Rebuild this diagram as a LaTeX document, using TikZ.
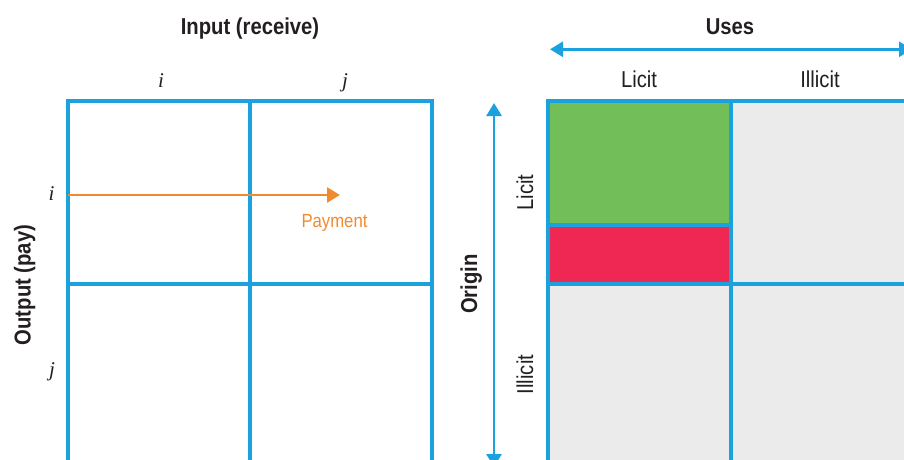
\documentclass[tikz,border=0pt]{standalone}
\usepackage{fontspec}
\setmainfont{Liberation Sans}[FakeStretch=0.88]
\newfontfamily\idxfont{Liberation Serif}
\usetikzlibrary{arrows.meta}
\definecolor{gridblue}{HTML}{1BA1DE}
\definecolor{payorange}{HTML}{F18A2E}
\definecolor{licitgreen}{HTML}{72BF5A}
\definecolor{mixred}{HTML}{EE2753}
\definecolor{cellgray}{HTML}{EBEBEB}
\definecolor{inkgray}{HTML}{231F20}

\begin{document}
\begin{tikzpicture}[x=1pt,y=-1pt,
    gridline/.style={draw=gridblue,line width=4pt},
    axis/.style={gridblue,line width=2.7pt,{Triangle[length=13pt,width=15pt]}-{Triangle[length=13pt,width=15pt]}},
    title/.style={font=\fontsize{23}{26}\selectfont\bfseries,anchor=base},
    lab/.style={font=\fontsize{23}{26}\selectfont,anchor=base},
    idx/.style={font=\fontsize{21}{24}\idxfont\itshape,anchor=base}]
    \tikzstyle{every node}+=[inner sep=0pt,text=inkgray]
    \useasboundingbox (0,0) rectangle (904,460);
    \clip (0,0) rectangle (904,460);
    % left matrix
    \draw [gridline] (68,101) rectangle (432,467);
    \draw [gridline] (250,101) -- (250,467);
    \draw [gridline] (68,284) -- (432,284);
    \node [title] (input) at (250,34.3) {Input (receive)};
    \node [title,rotate=90] (output) at (30.5,285) {Output (pay)};
    \node [idx] (coli) at (161,87) {i};
    \node [idx] (colj) at (345,87) {j};
    \node [idx] (rowi) at (51.5,200.7) {i};
    \node [idx] (rowj) at (52,376) {j};
    \coordinate (paystart) at (68,195);
    \coordinate (payend) at (340,195);
    \draw [payorange,line width=2.7pt,-{Triangle[length=13pt,width=15pt]}] (paystart) -- (payend);
    \node [lab,text=payorange,font=\fontsize{19}{22}\selectfont] (payment) at (334.5,227.5) {Payment};
    % right matrix
    \fill [cellgray] (548,101) rectangle (912,467);
    \fill [licitgreen] (548,101) rectangle (731,225);
    \fill [mixred] (548,225) rectangle (731,284);
    \draw [gridline] (548,101) rectangle (912,467);
    \draw [gridline] (731,101) -- (731,467);
    \draw [gridline] (548,284) -- (912,284);
    \draw [draw=gridblue,line width=3.5pt] (548,225) -- (731,225);
    \node [title] (uses) at (730,35) {Uses};
    \coordinate (usesleft) at (550,49.3);
    \coordinate (usesright) at (912,49.3);
    \draw [axis] (usesleft) -- (usesright);
    \node [lab] (uselicit) at (639,87.3) {Licit};
    \node [lab] (useillicit) at (820,87.3) {Illicit};
    \node [title,rotate=90] (origin) at (477,284) {Origin};
    \coordinate (origtop) at (494,103);
    \coordinate (origbot) at (494,467);
    \draw [axis] (origtop) -- (origbot);
    \node [lab,rotate=90] (orilicit) at (533,192.5) {Licit};
    \node [lab,rotate=90] (oriillicit) at (533,374.5) {Illicit};
\end{tikzpicture}
\end{document}
